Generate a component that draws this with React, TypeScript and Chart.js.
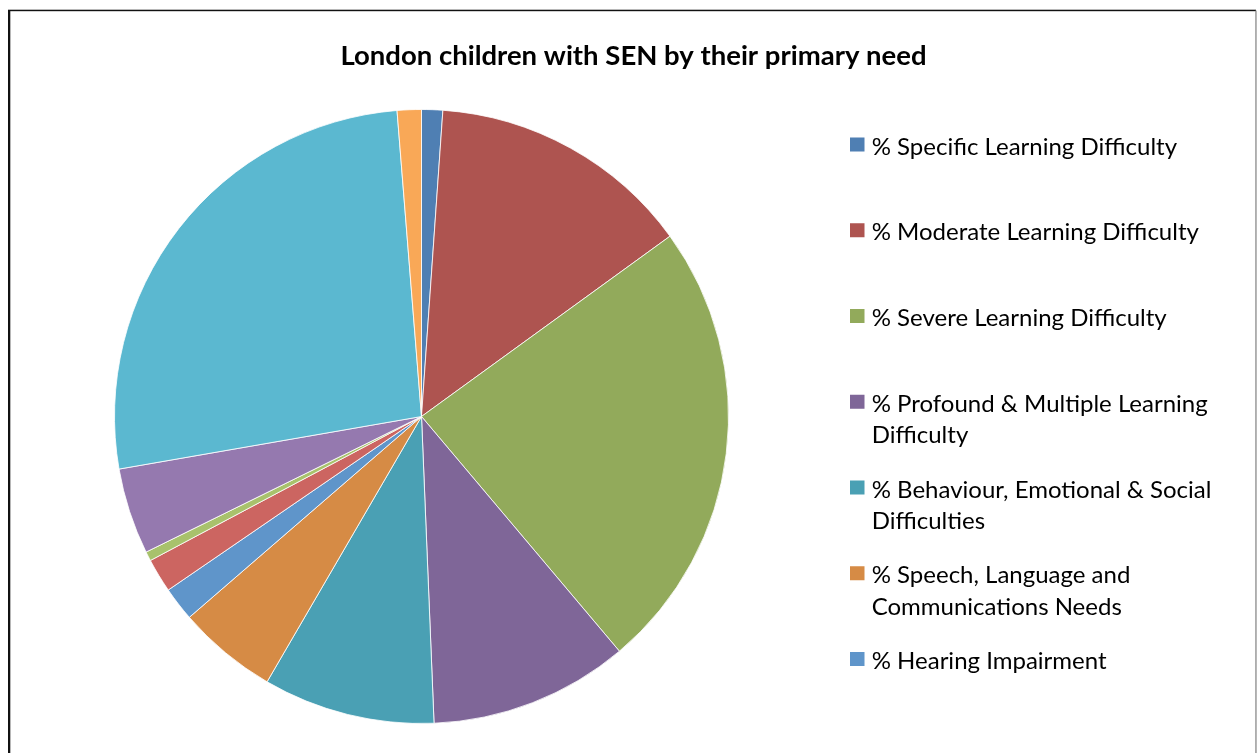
import React, { useEffect, useRef } from "react";
import { Chart, registerables } from "chart.js";

Chart.register(...registerables);

const TITLE = "London children with SEN by their primary need";

const categories = [
  "% Specific Learning Difficulty",
  "% Moderate Learning Difficulty",
  "% Severe Learning Difficulty",
  "% Profound & Multiple Learning Difficulty",
  "% Behaviour, Emotional & Social Difficulties",
  "% Speech, Language and Communications Needs",
  "% Hearing Impairment",
  "% Visual Impairment",
  "% Multi-Sensory Impairment",
  "% Physical Disability",
  "% Autistic Spectrum Disorder",
  "% Other Difficulty/Disability",
];

const values = [1.11, 13.9, 23.84, 10.5, 9.04, 5.26, 1.79, 1.79, 0.49, 4.54, 26.47, 1.27];

const sliceColors = [
  "#4F7FB3",
  "#AE5450",
  "#92AA5B",
  "#7F6698",
  "#4AA0B4",
  "#D68B45",
  "#5F95CA",
  "#CC6561",
  "#A8C26C",
  "#9579AF",
  "#5BB8D0",
  "#F9A857",
];

// Legend as shown in the reference (only the first seven entries fit)
const legendLines = [
  ["% Specific Learning Difficulty"],
  ["% Moderate Learning Difficulty"],
  ["% Severe Learning Difficulty"],
  ["% Profound & Multiple Learning", "Difficulty"],
  ["% Behaviour, Emotional & Social", "Difficulties"],
  ["% Speech, Language and", "Communications Needs"],
  ["% Hearing Impairment"],
];

const decorPlugin = {
  id: "decor",
  afterDraw(chart: any) {
    const ctx = chart.ctx as CanvasRenderingContext2D;
    ctx.save();
    // chart-area frame
    ctx.fillStyle = "#111";
    ctx.fillRect(8, 10, 2.3, 760);
    ctx.fillRect(8, 9.7, 1248, 1.5);
    ctx.fillStyle = "#8a8a8a";
    ctx.fillRect(1255.3, 10.5, 1.3, 760);

    // title
    ctx.fillStyle = "#000";
    ctx.font = "bold 27.5px Lato";
    ctx.textAlign = "center";
    ctx.textBaseline = "alphabetic";
    ctx.fillText(TITLE, 633.5, 65);

    // legend
    const colors = chart.data.datasets[0].backgroundColor as string[];
    const size = 24;
    ctx.font = `${size}px Lato`;
    ctx.textAlign = "left";
    legendLines.forEach((lines, i) => {
      const cy = 144.5 + 85.75 * i;
      ctx.fillStyle = colors[i];
      ctx.fillRect(850, cy - 7, 14.5, 14);
      ctx.fillStyle = "#000";
      const base = cy + 1.5 + 0.36 * size;
      lines.forEach((t, j) => ctx.fillText(t, 871.7, base + 31.5 * j));
    });
    ctx.restore();
  },
};

export default function App() {
  const ref = useRef<HTMLCanvasElement | null>(null);
  useEffect(() => {
    if (!ref.current) return;
    const chart = new Chart(ref.current, {
      type: "pie",
      data: {
        labels: categories,
        datasets: [
          {
            data: values,
            backgroundColor: sliceColors,
            borderColor: "rgba(255,255,255,0.8)",
            borderWidth: 1,
          },
        ],
      },
      options: {
        responsive: false,
        animation: false,
        devicePixelRatio: 1,
        layout: { padding: { left: 114, top: 109, right: 528, bottom: 29 } },
        plugins: {
          legend: { display: false },
          title: { display: false },
          tooltip: { enabled: false },
        },
      },
      plugins: [decorPlugin],
    });
    return () => chart.destroy();
  }, []);
  return (
    <div style={{ position: "absolute", left: 0, top: 0, width: 1257, height: 753, overflow: "hidden", background: "#fff" }}>
      <canvas ref={ref} width={1257} height={753} style={{ display: "block" }} />
    </div>
  );
}
